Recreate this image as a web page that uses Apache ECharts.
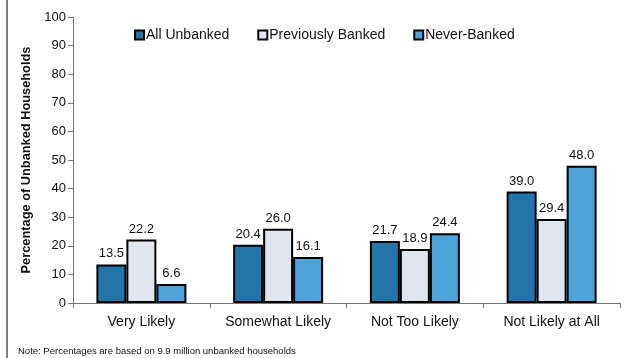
<!DOCTYPE html>
<html><head><meta charset="utf-8">
<script src="https://cdn.jsdelivr.net/npm/echarts@6/dist/echarts.min.js"></script>
<style>html,body{margin:0;padding:0;background:#fff}#c{width:633px;height:358px}</style>
</head><body><div id="c"></div>
<script>
const categories = ["Very Likely", "Somewhat Likely", "Not Too Likely", "Not Likely at All"];
const allUnbanked = [13.5, 20.4, 21.7, 39.0];
const previouslyBanked = [22.2, 26.0, 18.9, 29.4];
const neverBanked = [6.6, 16.1, 24.4, 48.0];
const seriesNames = ["All Unbanked", "Previously Banked", "Never-Banked"];
const colors = ["#2274a9", "#e0e6ee", "#4ea4da"];

const chart = echarts.init(document.getElementById('c'));
const F = 'Liberation Sans, Arial, sans-serif';
function mk(name, data, color) {
  return {
    name, type: 'bar', data, barWidth: 30, barGap: '0%',
    itemStyle: { color, borderColor: '#000', borderWidth: 2 },
    label: { show: true, position: 'top', distance: 4, formatter: p => p.value.toFixed(1), color: '#111', fontFamily: F, fontSize: 13 }
  };
}
chart.setOption({
  animation: false,
  textStyle: { fontFamily: F },
  grid: { left: 73, right: 13, top: 17, bottom: 55, containLabel: false },
  legend: {
    top: 23, left: 129, itemGap: 28, itemWidth: 9, itemHeight: 9,
    icon: 'rect',
    textStyle: { fontFamily: F, fontSize: 14, color: '#111', padding: [0, 0, 0, -3] },
    data: seriesNames
  },
  xAxis: {
    type: 'category', data: categories,
    axisLine: { lineStyle: { color: '#777', width: 1 } },
    axisTick: { show: true, length: 5, lineStyle: { color: '#777' } },
    axisLabel: { fontFamily: F, fontSize: 14, color: '#111', margin: 12, interval: 0 }
  },
  yAxis: {
    type: 'value', min: 0, max: 100, interval: 10,
    name: 'Percentage of Unbanked Households', nameLocation: 'middle', nameGap: 33,
    nameTextStyle: { fontFamily: F, fontSize: 12.8, fontWeight: 'bold', color: '#111' },
    axisLine: { show: true, lineStyle: { color: '#777' } },
    axisTick: { show: true, length: 5, lineStyle: { color: '#777' } },
    splitLine: { show: false },
    axisLabel: { fontFamily: F, fontSize: 13, color: '#111', margin: 7 }
  },
  series: [
    mk(seriesNames[0], allUnbanked, colors[0]),
    mk(seriesNames[1], previouslyBanked, colors[1]),
    mk(seriesNames[2], neverBanked, colors[2])
  ],
  graphic: [
    { type: 'line', shape: { x1: 7, y1: 0, x2: 7, y2: 358 }, style: { stroke: '#000', lineWidth: 1 } },
    { type: 'text', left: 18, top: 346, style: { text: 'Note: Percentages are based on 9.9 million unbanked households', font: '9.5px Liberation Sans, Arial, sans-serif', fill: '#111' } }
  ]
});
</script></body></html>
